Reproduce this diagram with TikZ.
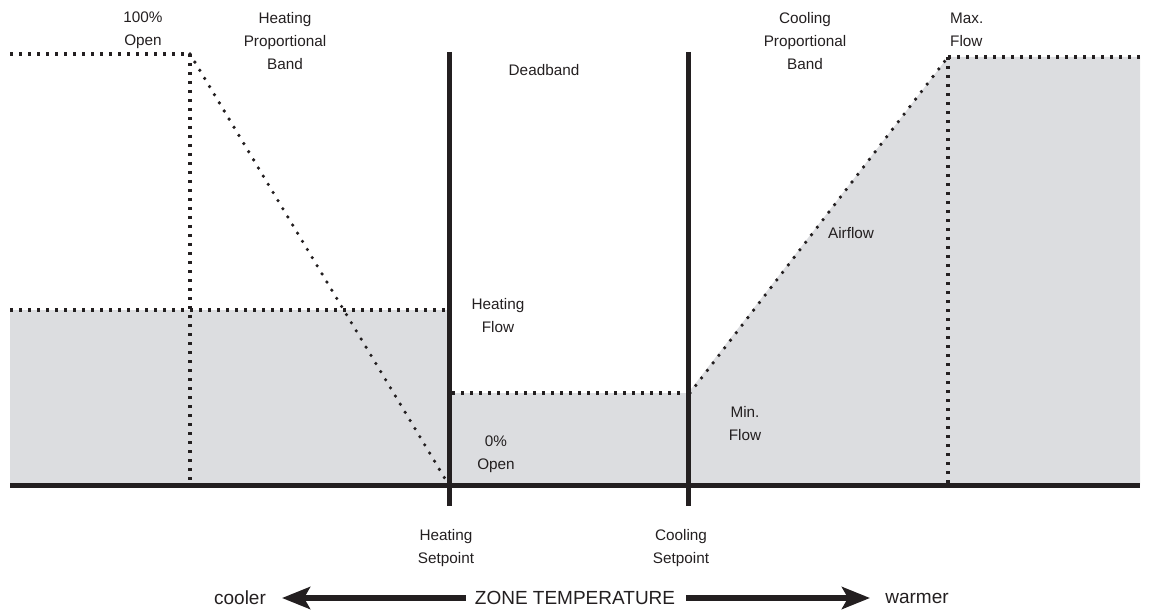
\documentclass[tikz,border=0pt]{standalone}
\usepackage{fontspec}
\setmainfont{Liberation Sans}
\usetikzlibrary{arrows.meta}
\definecolor{ink}{RGB}{35,31,32}
\definecolor{shade}{RGB}{220,221,224}
\tikzset{
  lbl/.style={text=ink, inner sep=0pt, align=center, font=\fontsize{15.3}{23}\selectfont},
  biglbl/.style={text=ink, inner sep=0pt, font=\fontsize{19}{23}\selectfont},
  thick line/.style={draw=ink, line width=5pt},
  sqdots/.style={draw=ink, line width=3.4pt, dash pattern=on 3.4pt off 5.6pt},
  rddots/.style={draw=ink, line width=3.6pt, line cap=round, dash pattern=on 0pt off 9.5pt},
  area/.style={fill=shade, draw=none},
  bigarrow/.style={draw=ink, line width=5.5pt, -{Stealth[length=28pt, width=22pt, inset=6pt]}}
}
\begin{document}
\begin{tikzpicture}[x=1pt, y=-1pt]
\useasboundingbox (0,0) rectangle (1150,612);
% key points
\coordinate (tl) at (10,54);
\coordinate (hc) at (190,54);
\coordinate (hb) at (190,483);
\coordinate (hz) at (447,482);
\coordinate (fl) at (10,310);
\coordinate (fr) at (447,310);
\coordinate (ml) at (452,393);
\coordinate (mr) at (686,393);
\coordinate (cs) at (690,393);
\coordinate (mx) at (948,57);
\coordinate (mxb) at (948,483);
\coordinate (tr) at (1140,57);
\coordinate (bl) at (10,485);
\coordinate (br) at (1140,485);
\coordinate (hst) at (449.5,52);
\coordinate (hsb) at (449.5,506);
\coordinate (cst) at (688,52);
\coordinate (csb) at (688,506);
% shaded areas
\path[area] (10,310) -- (449,310) -- (449,485) -- (10,485) -- cycle;
\path[area] (449,393) -- (688,393) -- (688,485) -- (449,485) -- cycle;
\path[area] (688,393) -- (948,57) -- (1140,57) -- (1140,485) -- (688,485) -- cycle;
% dotted curves
\draw[sqdots] (tl) -- (hc);
\draw[sqdots] (hc) -- (hb);
\draw[rddots] (hc) -- (hz);
\draw[sqdots] (fl) -- (fr);
\draw[sqdots] (ml) -- (mr);
\draw[rddots] (cs) -- (mx);
\draw[sqdots] (mx) -- (mxb);
\draw[sqdots] (mx) -- (tr);
% thick lines
\draw[thick line] (bl) -- (br);
\draw[thick line] (hst) -- (hsb);
\draw[thick line] (cst) -- (csb);
% labels
\node[lbl] (open100) at (143,30) {100\%\\Open};
\node[lbl] (hpb) at (285,41) {Heating\\Proportional\\Band};
\node[lbl] (dead) at (544,70) {Deadband};
\node[lbl] (cpb) at (805,41) {Cooling\\Proportional\\Band};
\node[lbl, align=left, anchor=west] (maxf) at (950,30) {Max.\\Flow};
\node[lbl] (air) at (851,233) {Airflow};
\node[lbl] (hflow) at (498,316) {Heating\\Flow};
\node[lbl] (open0) at (496,454) {0\%\\Open};
\node[lbl] (minf) at (745,424) {Min.\\Flow};
\node[lbl] (hsp) at (446,548) {Heating\\Setpoint};
\node[lbl] (csp) at (681,548) {Cooling\\Setpoint};
\node[biglbl] (cooler) at (240,598) {cooler};
\node[biglbl] (zone) at (575,598) {ZONE TEMPERATURE};
\node[biglbl] (warmer) at (917,598) {warmer};
\coordinate (la) at (282,598);
\coordinate (ra) at (870,598);
\draw[bigarrow] ([xshift=-9pt]zone.west) -- (la);
\draw[bigarrow] ([xshift=11pt]zone.east) -- (ra);
\end{tikzpicture}
\end{document}
